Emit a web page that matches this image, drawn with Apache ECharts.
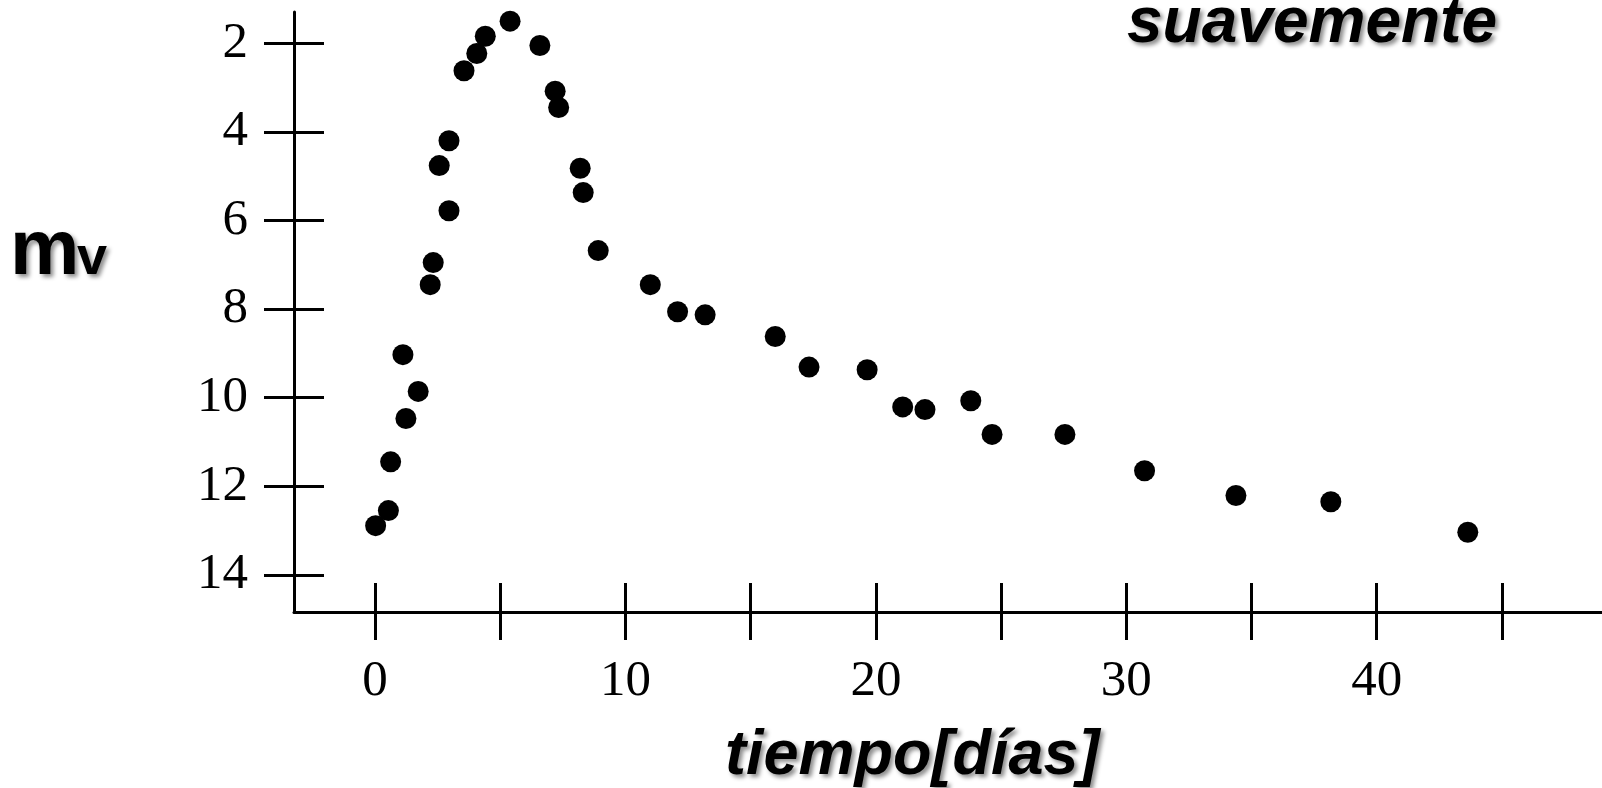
<!DOCTYPE html>
<html>
<head>
<meta charset="utf-8">
<script src="https://cdn.jsdelivr.net/npm/echarts@6/dist/echarts.min.js"></script>
<style>
  html, body { margin: 0; padding: 0; background: #fff; }
  #curva { width: 1602px; height: 788px; }
</style>
</head>
<body>
<div id="curva"></div>
<script>
// curva de luz: magnitud visual frente al tiempo
var tiempo = [0.02, 0.53, 0.62, 1.11, 1.23, 1.72, 2.20, 2.32, 2.56, 2.95, 2.95, 3.55,
              4.06, 4.40, 5.39, 6.58, 7.19, 7.33, 8.19, 8.31, 8.91, 10.99, 12.08, 13.18,
              15.98, 17.33, 19.65, 21.07, 21.96, 23.79, 24.64, 27.55, 30.73, 34.38, 38.17, 43.64];
var magnitud = [12.89, 12.55, 11.45, 9.03, 10.47, 9.86, 7.45, 6.95, 4.76, 4.20, 5.78, 2.62,
                2.23, 1.84, 1.50, 2.05, 3.08, 3.45, 4.82, 5.37, 6.68, 7.45, 8.06, 8.13,
                8.62, 9.31, 9.37, 10.21, 10.27, 10.07, 10.83, 10.83, 11.65, 12.21, 12.35, 13.04];

var xTicks = [0, 5, 10, 15, 20, 25, 30, 35, 40, 45];
var xLabels = [0, 10, 20, 30, 40];
var yTicks = [2, 4, 6, 8, 10, 12, 14];

var xMin = -3.24, xMax = 49;
var yMin = 1.293, yMax = 14.84;

var puntos = tiempo.map(function (t, i) { return [t, magnitud[i]]; });

var fuenteEje = {
    fontFamily: 'Liberation Serif',
    fontSize: 51,
    color: '#000'
};
var sombra = {
    textShadowColor: 'rgba(0,0,0,0.45)',
    textShadowBlur: 4,
    textShadowOffsetX: 3,
    textShadowOffsetY: 3
};

// un eje con marcas hacia fuera (con etiquetas) y otro igual con marcas hacia dentro
function ejeX(dentro) {
    return {
        type: 'value',
        position: 'bottom',
        min: xMin,
        max: xMax,
        splitLine: { show: false },
        axisLine: { show: !dentro, onZero: false, lineStyle: { color: '#000', width: 3 } },
        axisTick: {
            show: true,
            inside: dentro,
            length: dentro ? 29 : 28,
            customValues: xTicks,
            lineStyle: { color: '#000', width: 3 }
        },
        axisLabel: Object.assign({
            show: !dentro,
            margin: 44,
            customValues: xLabels
        }, fuenteEje)
    };
}
function ejeY(dentro) {
    return {
        type: 'value',
        position: 'left',
        inverse: true,
        min: yMin,
        max: yMax,
        splitLine: { show: false },
        axisLine: { show: !dentro, onZero: false, lineStyle: { color: '#000', width: 3 } },
        axisTick: {
            show: true,
            inside: dentro,
            length: 30,
            customValues: yTicks,
            lineStyle: { color: '#000', width: 3 }
        },
        axisLabel: Object.assign({
            show: !dentro,
            margin: 46,
            customValues: yTicks
        }, fuenteEje)
    };
}

var option = {
    backgroundColor: '#fff',
    animation: false,
    grid: {
        left: 294,
        right: 0,
        top: 12,
        bottom: 176,
        outerBoundsMode: 'none'
    },
    xAxis: [ejeX(false), ejeX(true)],
    yAxis: [ejeY(false), ejeY(true)],
    graphic: [
        {
            type: 'text',
            style: Object.assign({
                text: 'm', x: 10, y: 252,
                font: 'bold 78px "Liberation Sans"',
                fill: '#000', textVerticalAlign: 'middle'
            }, sombra)
        },
        {
            type: 'text',
            style: Object.assign({
                text: 'v', x: 77, y: 259,
                font: 'bold 54px "Liberation Sans"',
                fill: '#000', textVerticalAlign: 'middle'
            }, sombra)
        },
        {
            type: 'text',
            style: Object.assign({
                text: 'suavemente', x: 1127, y: 24,
                font: 'italic bold 64px "Liberation Sans"',
                fill: '#000', textVerticalAlign: 'middle'
            }, sombra)
        },
        {
            type: 'text',
            style: Object.assign({
                text: 'tiempo[días]', x: 725, y: 757,
                font: 'italic bold 63px "Liberation Sans"',
                fill: '#000', textVerticalAlign: 'middle'
            }, sombra)
        }
    ],
    series: [
        {
            type: 'scatter',
            xAxisIndex: 0,
            yAxisIndex: 0,
            symbol: 'circle',
            symbolSize: 21,
            itemStyle: { color: '#000', opacity: 1 },
            data: puntos
        }
    ]
};

var grafico = echarts.init(document.getElementById('curva'));
grafico.setOption(option);
</script>
</body>
</html>
